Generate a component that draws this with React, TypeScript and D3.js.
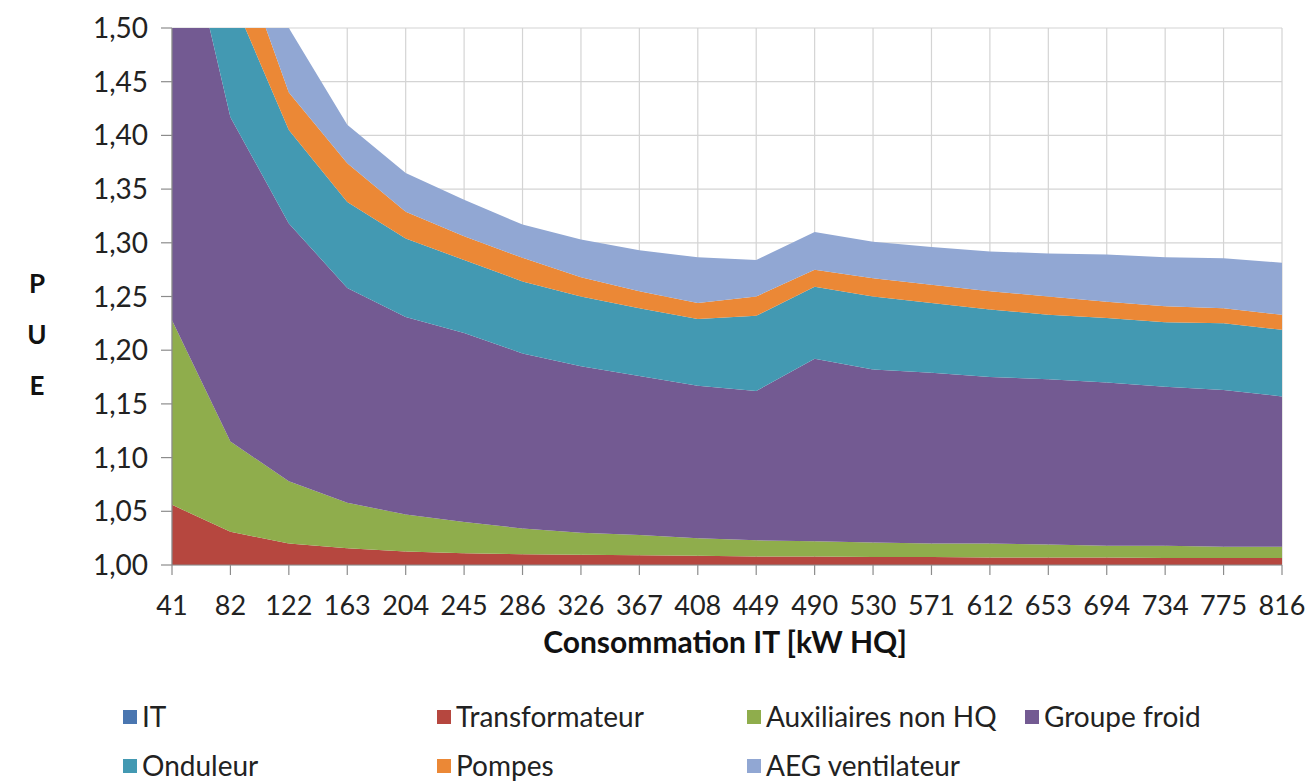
import React from 'react'
import * as d3 from 'd3'

const categories = ['41', '82', '122', '163', '204', '245', '286', '326', '367', '408', '449', '490', '530', '571', '612', '653', '694', '734', '775', '816']

const it = [1, 1, 1, 1, 1, 1, 1, 1, 1, 1, 1, 1, 1, 1, 1, 1, 1, 1, 1, 1]
const transformateur = [0.056, 0.031, 0.020, 0.0155, 0.0125, 0.011, 0.010, 0.0095, 0.009, 0.0085, 0.008, 0.008, 0.0075, 0.0075, 0.007, 0.007, 0.007, 0.0065, 0.0065, 0.0065]
const auxiliaires = [0.172, 0.084, 0.058, 0.0425, 0.0345, 0.029, 0.024, 0.0205, 0.019, 0.0165, 0.015, 0.014, 0.0135, 0.0125, 0.013, 0.012, 0.011, 0.0115, 0.0105, 0.0105]
const groupeFroid = [0.422, 0.302, 0.240, 0.200, 0.184, 0.176, 0.163, 0.155, 0.148, 0.142, 0.139, 0.170, 0.161, 0.159, 0.155, 0.154, 0.152, 0.148, 0.146, 0.140]
const onduleur = [0.170, 0.115, 0.087, 0.080, 0.073, 0.068, 0.067, 0.065, 0.063, 0.062, 0.070, 0.067, 0.068, 0.065, 0.063, 0.060, 0.060, 0.060, 0.062, 0.062]
const pompes = [0.080, 0.060, 0.035, 0.036, 0.025, 0.022, 0.022, 0.018, 0.016, 0.015, 0.018, 0.016, 0.017, 0.017, 0.017, 0.017, 0.015, 0.015, 0.014, 0.014]
const aeg = [0.070, 0.070, 0.060, 0.036, 0.036, 0.034, 0.031, 0.035, 0.038, 0.0425, 0.034, 0.035, 0.034, 0.035, 0.037, 0.040, 0.044, 0.0455, 0.0466, 0.0485]

const yTicks = [1.0, 1.05, 1.1, 1.15, 1.2, 1.25, 1.3, 1.35, 1.4, 1.45, 1.5]

const series = [
  { key: 'IT', values: it, color: '#4a76b0' },
  { key: 'Transformateur', values: transformateur, color: '#b6473f' },
  { key: 'Auxiliaires non HQ', values: auxiliaires, color: '#8fad4c' },
  { key: 'Groupe froid', values: groupeFroid, color: '#735a92' },
  { key: 'Onduleur', values: onduleur, color: '#4399b2' },
  { key: 'Pompes', values: pompes, color: '#eb8836' },
  { key: 'AEG ventilateur', values: aeg, color: '#91a7d3' }
]

// legend placement (column x, row)
const legendPos = [
  [123, 0], [437, 0], [747, 0], [1025, 0],
  [123, 1], [437, 1], [747, 1]
]

const W = 1309
const H = 782
const left = 172
const right = 1282
const top = 28
const bottom = 565
const font = 'Lato, "Open Sans", sans-serif'

export default function App() {
  const x = d3.scalePoint<string>().domain(categories).range([left, right])
  const y = d3.scaleLinear().domain([1, 1.5]).range([bottom, top])

  const table = categories.map((c, i) => {
    const row: any = { cat: c }
    series.forEach(s => { row[s.key] = s.values[i] })
    return row
  })
  const stacked = d3.stack<any>().keys(series.map(s => s.key))(table)

  const area = d3.area<any>()
    .x(d => x(d.data.cat) as number)
    .y0(d => y(d[0]))
    .y1(d => y(d[1]))

  const fmt = (v: number) => v.toFixed(2).replace('.', ',')

  return (
    <svg width={W} height={H} style={{ position: 'absolute', left: 0, top: 0, background: '#fff' }}>
      <defs>
        <clipPath id="plot">
          <rect x={left} y={top} width={right - left} height={bottom - top} />
        </clipPath>
      </defs>

      {/* grid */}
      {yTicks.map(t => (
        <line key={'h' + t} x1={left} x2={right} y1={y(t)} y2={y(t)} stroke="#d4d4d4" strokeWidth={1.2} />
      ))}
      {categories.map(c => (
        <line key={'v' + c} x1={x(c)} x2={x(c)} y1={top} y2={bottom} stroke="#d4d4d4" strokeWidth={1.2} />
      ))}

      <g clipPath="url(#plot)">
        {stacked.map((layer, i) => (
          <path key={layer.key} d={area(layer) || ''} fill={series[i].color} />
        ))}
      </g>

      {/* axes */}
      <line x1={left} x2={left} y1={top} y2={bottom} stroke="#8c8c8c" strokeWidth={1.2} />
      <line x1={left} x2={right} y1={bottom} y2={bottom} stroke="#8c8c8c" strokeWidth={1.2} />
      {yTicks.map(t => (
        <g key={'yt' + t}>
          <line x1={left - 11} x2={left} y1={y(t)} y2={y(t)} stroke="#8c8c8c" strokeWidth={1.2} />
          <text x={148} y={y(t)} dy="0.36em" textAnchor="end" fontFamily={font} fontSize={28} fill="#222">{fmt(t)}</text>
        </g>
      ))}
      {categories.map(c => (
        <g key={'xt' + c}>
          <line x1={x(c)} x2={x(c)} y1={bottom} y2={bottom + 10} stroke="#8c8c8c" strokeWidth={1.2} />
          <text x={x(c)} y={615} textAnchor="middle" fontFamily={font} fontSize={27} fill="#222">{c}</text>
        </g>
      ))}

      <text x={(left + right) / 2 - 2} y={653} textAnchor="middle" fontFamily={font} fontWeight="bold" fontSize={30} fill="#111">Consommation IT [kW HQ]</text>

      {['P', 'U', 'E'].map((ch, i) => (
        <text key={ch} x={37} y={293 + i * 51} textAnchor="middle" fontFamily={font} fontWeight="bold" fontSize={26} fill="#111">{ch}</text>
      ))}

      {/* legend */}
      {series.map((s, i) => {
        const [lx, row] = legendPos[i]
        const ly = 717 + row * 49
        return (
          <g key={'lg' + s.key}>
            <rect x={lx} y={ly - 7} width={14} height={14} fill={s.color} />
            <text x={lx + 19} y={ly} dy="0.36em" fontFamily={font} fontSize={28} fill="#222">{s.key}</text>
          </g>
        )
      })}
    </svg>
  )
}
